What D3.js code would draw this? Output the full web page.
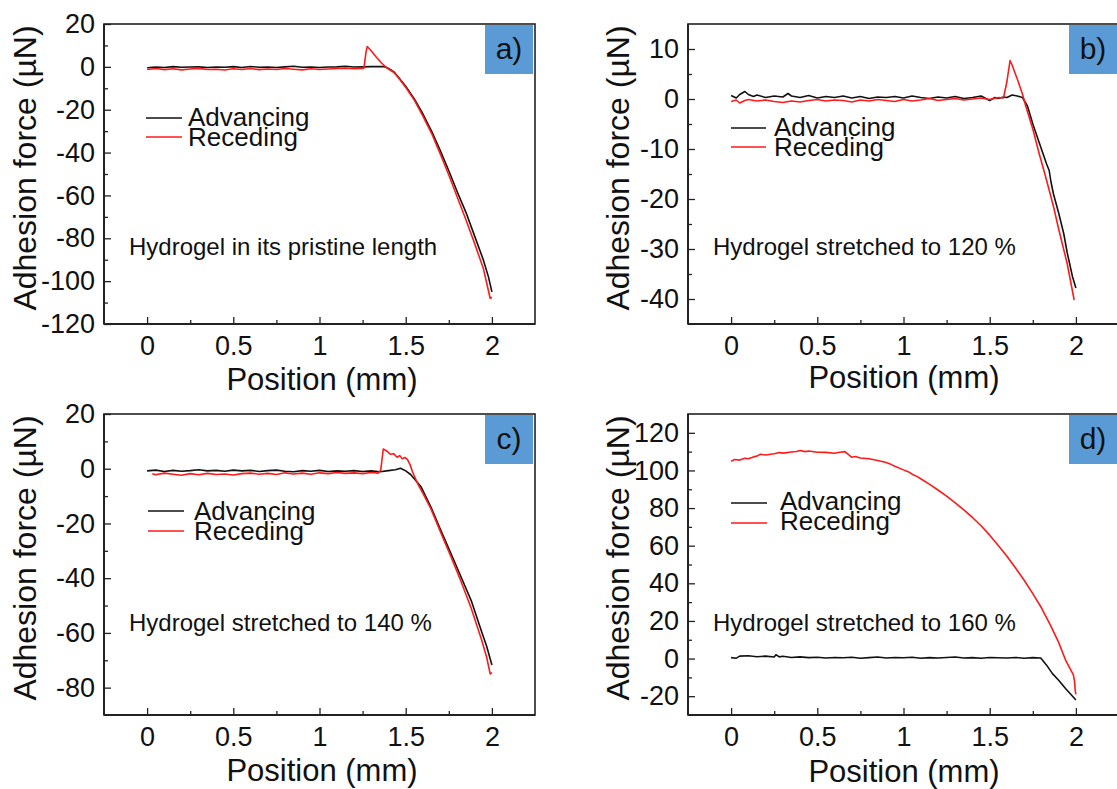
<!DOCTYPE html>
<html>
<head>
<meta charset="utf-8">
<script src="https://cdn.jsdelivr.net/npm/d3@7"></script>
<style>
  html, body { margin: 0; padding: 0; background: #fff; }
  svg { display: block; }
  text { font-family: "Liberation Sans", Arial, sans-serif; fill: #111; }
</style>
</head>
<body>
<svg id="chart" width="1117" height="789"></svg>
<script>
// ---------------- DATA ----------------
const xTicks = [0, 0.5, 1, 1.5, 2];
const xMinorTicks = [0.25, 0.75, 1.25, 1.75];

const yTicksA = [20, 0, -20, -40, -60, -80, -100, -120];
const yMinorA = [10, -10, -30, -50, -70, -90, -110];
const yTicksB = [10, 0, -10, -20, -30, -40];
const yMinorB = [5, -5, -15, -25, -35];
const yTicksC = [20, 0, -20, -40, -60, -80];
const yMinorC = [10, -10, -30, -50, -70];
const yTicksD = [120, 100, 80, 60, 40, 20, 0, -20];
const yMinorD = [110, 90, 70, 50, 30, 10, -10];

const seriesNames = ["Advancing", "Receding"];
const panelLabels = ["a)", "b)", "c)", "d)"];
const panelNotes = ["Hydrogel in its pristine length", "Hydrogel stretched to 120 %",
                    "Hydrogel stretched to 140 %", "Hydrogel stretched to 160 %"];

// [position mm, force µN]
const advA = [[0,-0.4],[0.05,-0.1],[0.1,-0.3],[0.15,0.1],[0.2,-0.2],[0.25,-0.1],[0.3,0.0],[0.35,-0.3],[0.4,-0.1],[0.45,-0.2],[0.5,0.1],[0.55,-0.3],[0.6,0.2],[0.65,-0.2],[0.7,-0.1],[0.75,-0.3],[0.8,0.0],[0.85,0.3],[0.9,-0.2],[0.95,-0.1],[1.0,-0.3],[1.05,-0.1],[1.1,0.0],[1.15,0.3],[1.2,-0.1],[1.25,0.0],[1.3,0.1],[1.35,0.2],[1.375,0.1],[1.39,-0.3],[1.41,-1.2],[1.43,-2.2],[1.45,-4],[1.5,-9],[1.55,-15],[1.6,-22],[1.65,-30],[1.7,-39],[1.75,-48.5],[1.8,-58.5],[1.85,-68],[1.9,-79],[1.95,-90],[1.98,-98],[2.0,-105]];
const recA = [[0,-1.2],[0.05,-0.8],[0.1,-1.3],[0.15,-0.9],[0.2,-1.4],[0.25,-1.0],[0.3,-0.7],[0.35,-1.2],[0.4,-1.1],[0.45,-1.5],[0.5,-0.9],[0.55,-1.2],[0.6,-0.8],[0.65,-1.3],[0.7,-1.0],[0.75,-1.2],[0.8,-0.8],[0.85,-1.1],[0.9,-1.4],[0.95,-0.9],[1.0,-1.2],[1.05,-1.0],[1.1,-0.8],[1.15,-0.6],[1.2,-0.9],[1.25,-0.8],[1.258,-0.5],[1.27,7],[1.277,9.5],[1.30,7.5],[1.33,4.5],[1.36,1.8],[1.384,0],[1.40,-1],[1.43,-2.5],[1.45,-4.3],[1.5,-9.5],[1.55,-15.5],[1.6,-23],[1.65,-31],[1.7,-40.5],[1.75,-50.5],[1.8,-61],[1.85,-71.5],[1.9,-82.5],[1.95,-94],[1.99,-108],[2.0,-107.5]];

const advB = [[0,0.7],[0.03,0.2],[0.05,0.9],[0.08,1.5],[0.1,0.9],[0.13,0.5],[0.15,0.8],[0.2,0.3],[0.25,0.6],[0.3,0.4],[0.33,1.1],[0.35,0.6],[0.4,0.3],[0.45,0.7],[0.5,0.2],[0.55,0.5],[0.6,0.3],[0.65,0.6],[0.7,0.2],[0.75,0.5],[0.8,0.1],[0.85,0.4],[0.9,0.3],[0.95,0.5],[1.0,0.2],[1.05,0.6],[1.1,0.3],[1.15,0.1],[1.2,0.4],[1.25,0.2],[1.3,0.5],[1.35,0.1],[1.4,0.3],[1.45,0.6],[1.5,-0.3],[1.53,0.3],[1.55,0.1],[1.58,0.4],[1.6,0.3],[1.63,0.8],[1.66,0.6],[1.69,0.3],[1.72,-1.5],[1.75,-5],[1.8,-10],[1.83,-13],[1.845,-14.3],[1.855,-16.5],[1.87,-19],[1.9,-22.8],[1.93,-27],[1.95,-30.8],[1.98,-35.5],[2.0,-37.8]];
const recB = [[0,-0.5],[0.03,-0.2],[0.05,-0.8],[0.08,-0.3],[0.1,-0.1],[0.15,-0.4],[0.2,-0.2],[0.25,-0.5],[0.3,-0.7],[0.35,-0.4],[0.4,-0.6],[0.45,-0.3],[0.5,-0.1],[0.55,-0.4],[0.6,-0.2],[0.65,-0.3],[0.7,-0.6],[0.75,-0.2],[0.8,-0.4],[0.85,-0.1],[0.9,-0.3],[0.95,-0.5],[1.0,-0.1],[1.05,-0.4],[1.1,-0.2],[1.15,0.1],[1.2,-0.3],[1.25,-0.1],[1.3,0.1],[1.35,-0.2],[1.4,0.0],[1.45,0.2],[1.5,-0.1],[1.55,0.3],[1.58,0.2],[1.60,3.5],[1.618,7.7],[1.63,6.8],[1.66,4],[1.69,1],[1.71,-1.5],[1.75,-6],[1.786,-10.8],[1.82,-15],[1.844,-18.1],[1.87,-21.5],[1.9,-26],[1.95,-33],[1.99,-40.2]];

const advC = [[0,-0.8],[0.05,-0.5],[0.1,-1.0],[0.15,-0.6],[0.2,-0.9],[0.25,-0.7],[0.3,-0.4],[0.35,-0.8],[0.4,-0.6],[0.45,-0.9],[0.5,-0.5],[0.55,-0.8],[0.6,-0.6],[0.65,-1.0],[0.7,-0.7],[0.75,-0.5],[0.8,-0.9],[0.85,-1.1],[0.9,-0.7],[0.95,-0.9],[1.0,-0.6],[1.05,-1.0],[1.1,-0.8],[1.15,-0.9],[1.2,-0.7],[1.25,-1.0],[1.3,-0.8],[1.35,-1.1],[1.4,-0.7],[1.44,-0.4],[1.47,0.2],[1.5,-0.8],[1.53,-2.2],[1.59,-6.7],[1.645,-13.8],[1.7,-22],[1.76,-30.6],[1.82,-39.4],[1.88,-48.2],[1.94,-59.5],[1.97,-65],[2.0,-71.7]];
const recC = [[0.03,-1.8],[0.05,-2.2],[0.1,-1.6],[0.15,-2.0],[0.2,-2.4],[0.25,-1.8],[0.3,-2.2],[0.35,-1.7],[0.4,-2.1],[0.45,-1.9],[0.5,-2.3],[0.55,-1.8],[0.6,-1.6],[0.65,-2.0],[0.7,-1.7],[0.75,-2.1],[0.8,-1.5],[0.85,-1.9],[0.9,-1.6],[0.95,-2.0],[1.0,-1.5],[1.05,-1.8],[1.1,-1.4],[1.15,-1.7],[1.2,-1.5],[1.25,-1.8],[1.3,-1.4],[1.34,-1.6],[1.355,-0.5],[1.37,7.2],[1.39,6.5],[1.41,5.3],[1.43,5.5],[1.45,4.2],[1.465,4.8],[1.48,3.6],[1.495,4.1],[1.51,3.4],[1.525,1.5],[1.54,-1.2],[1.57,-5.5],[1.6,-9],[1.645,-14.5],[1.7,-22.8],[1.76,-31.8],[1.82,-41],[1.88,-51],[1.94,-62.5],[1.97,-69],[1.99,-75],[2.0,-74.5]];

const advD = [[0,0.5],[0.03,0.2],[0.05,1.3],[0.1,1.5],[0.15,1.0],[0.2,1.3],[0.25,0.8],[0.26,2.0],[0.28,0.9],[0.3,1.2],[0.35,0.6],[0.4,0.9],[0.45,0.5],[0.5,0.7],[0.55,0.3],[0.6,0.6],[0.65,0.4],[0.7,0.7],[0.75,0.2],[0.8,0.5],[0.85,0.8],[0.9,0.3],[0.95,0.6],[1.0,0.4],[1.05,0.7],[1.1,0.2],[1.15,0.5],[1.2,0.3],[1.25,0.6],[1.3,0.8],[1.35,0.3],[1.4,0.5],[1.45,0.2],[1.5,0.6],[1.55,0.4],[1.6,0.3],[1.65,0.6],[1.7,0.2],[1.75,0.5],[1.796,0.3],[1.83,-3.5],[1.864,-8],[1.9,-11.5],[1.941,-16],[1.97,-19],[2.0,-22]];
const recD = [[0,104.8],[0.02,105.8],[0.05,105.5],[0.08,106.5],[0.1,106.2],[0.13,107.2],[0.15,107.6],[0.17,108.6],[0.2,108.2],[0.25,108.9],[0.28,109.5],[0.3,109.2],[0.35,109.8],[0.38,110.1],[0.4,110.6],[0.43,110.0],[0.45,110.3],[0.5,109.7],[0.55,109.6],[0.6,109.1],[0.63,109.7],[0.66,110.0],[0.68,108.5],[0.7,107.0],[0.72,107.4],[0.75,106.6],[0.8,106.2],[0.85,105.3],[0.9,104.2],[0.93,103.1],[0.95,102.2],[1.0,100.3],[1.03,99.2],[1.05,98.0],[1.08,96.7],[1.1,95.6],[1.15,92.7],[1.2,89.6],[1.25,86.3],[1.3,82.7],[1.35,79.0],[1.4,75.0],[1.45,70.6],[1.5,65.6],[1.55,60.1],[1.6,54.4],[1.65,48.1],[1.7,41.6],[1.75,34.5],[1.8,27.0],[1.85,18.2],[1.9,8.6],[1.94,-0.8],[1.97,-6],[1.985,-8.5],[1.992,-12],[1.996,-17],[2.0,-19]];

// ---------------- LAYOUT ----------------
const panels = [
  { left: 104, top: 24,  right: 535,  bottom: 324, yDom: [-120, 20], yT: yTicksA, yM: yMinorA, adv: advA, rec: recA,
    leg: { x1: 146, x2: 182, tx: 188, y1: 118, y2: 137, b1: 126, b2: 146 }, note: { x: 129, y: 255 }, ytx: 36, yty: 168, xtx: 322, xty: 390 },
  { left: 688, top: 24,  right: 1119, bottom: 324, yDom: [-45, 15], yT: yTicksB, yM: yMinorB, adv: advB, rec: recB,
    leg: { x1: 731, x2: 766, tx: 774, y1: 128, y2: 147, b1: 136, b2: 156 }, note: { x: 713, y: 255 }, ytx: 629, yty: 168, xtx: 904, xty: 388 },
  { left: 104, top: 414, right: 535,  bottom: 715, yDom: [-90, 20], yT: yTicksC, yM: yMinorC, adv: advC, rec: recC,
    leg: { x1: 148, x2: 184, tx: 194, y1: 511, y2: 531, b1: 520, b2: 540 }, note: { x: 129, y: 631 }, ytx: 36, yty: 558, xtx: 322, xty: 781 },
  { left: 688, top: 414, right: 1119, bottom: 715, yDom: [-30, 130], yT: yTicksD, yM: yMinorD, adv: advD, rec: recD,
    leg: { x1: 731, x2: 767, tx: 780, y1: 503, y2: 523, b1: 510, b2: 530 }, note: { x: 713, y: 631 }, ytx: 629, yty: 558, xtx: 904, xty: 782 }
];

const svg = d3.select("#chart");
svg.append("rect").attr("width", 1117).attr("height", 789).attr("fill", "#fff");

const fmt = d => String(d);
const colors = { adv: "#111111", rec: "#ff1a1a" };

panels.forEach((p, i) => {
  const x = d3.scaleLinear().domain([-0.25, 2.25]).range([p.left, p.right]);
  const y = d3.scaleLinear().domain(p.yDom).range([p.bottom, p.top]);
  const g = svg.append("g");

  // x axis (inward ticks)
  const gx = g.append("g").attr("transform", `translate(0,${p.bottom})`)
    .call(d3.axisBottom(x).tickValues(xTicks).tickSize(-7).tickSizeOuter(0).tickPadding(12).tickFormat(fmt));
  gx.select(".domain").remove();
  gx.selectAll("line").attr("stroke", "#222").attr("stroke-width", 1.3);
  gx.selectAll("text").attr("font-size", 27).attr("fill", "#111").attr("dy", "0.71em");
  const gxm = g.append("g").attr("transform", `translate(0,${p.bottom})`)
    .call(d3.axisBottom(x).tickValues(xMinorTicks).tickSize(-4).tickSizeOuter(0).tickFormat(""));
  gxm.select(".domain").remove();
  gxm.selectAll("line").attr("stroke", "#222").attr("stroke-width", 1.3);

  // y axis
  const gy = g.append("g").attr("transform", `translate(${p.left},0)`)
    .call(d3.axisLeft(y).tickValues(p.yT).tickSize(-7).tickSizeOuter(0).tickPadding(9).tickFormat(fmt));
  gy.select(".domain").remove();
  gy.selectAll("line").attr("stroke", "#222").attr("stroke-width", 1.3);
  gy.selectAll("text").attr("font-size", 27).attr("fill", "#111");
  const gym = g.append("g").attr("transform", `translate(${p.left},0)`)
    .call(d3.axisLeft(y).tickValues(p.yM).tickSize(-4).tickSizeOuter(0).tickFormat(""));
  gym.select(".domain").remove();
  gym.selectAll("line").attr("stroke", "#222").attr("stroke-width", 1.3);

  // frame
  g.append("rect").attr("x", p.left).attr("y", p.top)
    .attr("width", p.right - p.left).attr("height", p.bottom - p.top)
    .attr("fill", "none").attr("stroke", "#222").attr("stroke-width", 1.6);
  g.append("line").attr("x1", p.left).attr("x2", p.right).attr("y1", p.bottom).attr("y2", p.bottom)
    .attr("stroke", "#222").attr("stroke-width", 2);
  g.append("line").attr("x1", p.left).attr("x2", p.left).attr("y1", p.top).attr("y2", p.bottom)
    .attr("stroke", "#222").attr("stroke-width", 2);

  // label box
  g.append("rect").attr("x", p.right - 50).attr("y", p.top + 1).attr("width", 48).attr("height", 49)
    .attr("fill", "#5b9bd5");
  g.append("text").attr("x", p.right - 26).attr("y", p.top + 35).attr("text-anchor", "middle")
    .attr("font-size", 30).attr("fill", "#111").text(panelLabels[i]);

  // lines
  const line = d3.line().x(d => x(d[0])).y(d => y(d[1]));
  g.append("path").datum(p.adv).attr("d", line).attr("fill", "none")
    .attr("stroke", colors.adv).attr("stroke-width", 1.6).attr("stroke-linejoin", "round");
  g.append("path").datum(p.rec).attr("d", line).attr("fill", "none")
    .attr("stroke", colors.rec).attr("stroke-width", 1.6).attr("stroke-linejoin", "round");

  // legend
  const L = p.leg;
  g.append("line").attr("x1", L.x1).attr("x2", L.x2).attr("y1", L.y1).attr("y2", L.y1)
    .attr("stroke", colors.adv).attr("stroke-width", 1.6);
  g.append("line").attr("x1", L.x1).attr("x2", L.x2).attr("y1", L.y2).attr("y2", L.y2)
    .attr("stroke", colors.rec).attr("stroke-width", 1.6);
  g.append("text").attr("x", L.tx).attr("y", L.b1).attr("font-size", 26).text(seriesNames[0]);
  g.append("text").attr("x", L.tx).attr("y", L.b2).attr("font-size", 26).text(seriesNames[1]);

  // note
  g.append("text").attr("x", p.note.x).attr("y", p.note.y).attr("font-size", 24).text(panelNotes[i]);

  // axis titles
  g.append("text").attr("transform", `translate(${p.ytx},${p.yty}) rotate(-90)`)
    .attr("text-anchor", "middle").attr("font-size", 32).text("Adhesion force (µN)");
  g.append("text").attr("x", p.xtx).attr("y", p.xty).attr("text-anchor", "middle")
    .attr("font-size", 31).text("Position (mm)");
});
</script>
</body>
</html>
